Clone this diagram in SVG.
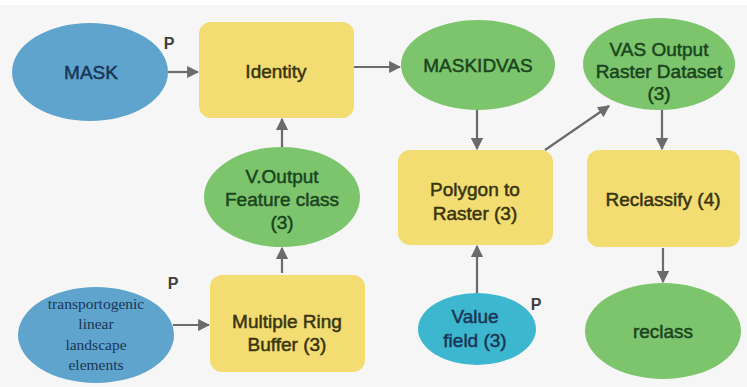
<svg xmlns="http://www.w3.org/2000/svg" width="747" height="387" viewBox="0 0 747 387">
<defs>
<style>
.bg{fill:#f6f6f6}
.tool{fill:#f3dc72}
.data{fill:#7cc56c}
.inp{fill:#5fa4cd}
.val{fill:#3db6cf}
text{font-family:"Liberation Sans",Arial,sans-serif;font-size:19px;text-anchor:middle;stroke-width:0.5}
.tt{fill:#37350f;stroke:#37350f}
.td{fill:#1b4420;stroke:#1b4420}
.ti{fill:#1a3656;stroke:#1a3656}
.ser{font-family:"Liberation Serif","Times New Roman",serif;font-size:15.5px;stroke:none;fill:#1a3656}
.p{font-size:16px;font-weight:bold;fill:#3f3f3f;stroke:none}
.conn line{stroke:#6b6b6b;stroke-width:2.2;marker-end:url(#ah)}
</style>
<marker id="ah" viewBox="0 0 10 10" refX="9" refY="5" markerWidth="5.5" markerHeight="5.5" orient="auto" markerUnits="strokeWidth"><path d="M0,0 L10,5 L0,10 z" fill="#6b6b6b"/></marker>
</defs>
<rect class="bg" x="0" y="0" width="747" height="387"/>
<rect x="0" y="0" width="747" height="5" fill="#ffffff"/>

<g id="connectors" class="conn">
<line x1="168" y1="72" x2="198" y2="72"/>
<line x1="354" y1="67" x2="400" y2="67"/>
<line x1="282" y1="147" x2="282" y2="119"/>
<line x1="282" y1="273" x2="282" y2="248"/>
<line x1="173" y1="325" x2="209" y2="325"/>
<line x1="477" y1="110" x2="477" y2="149"/>
<line x1="545" y1="150" x2="609" y2="106"/>
<line x1="477" y1="293" x2="477" y2="246"/>
<line x1="662" y1="110" x2="662" y2="149"/>
<line x1="663" y1="248" x2="663" y2="282"/>
</g>

<g id="mask">
<ellipse class="inp" cx="90" cy="72" rx="78" ry="49"/>
<text class="ti" x="91" y="79">MASK</text>
<text class="p" x="169" y="49">P</text>
</g>

<g id="identity">
<rect class="tool" x="199" y="22" width="155" height="96" rx="12"/>
<text class="tt" x="276" y="78">Identity</text>
</g>

<g id="maskidvas">
<ellipse class="data" cx="478" cy="65" rx="77" ry="45"/>
<text class="td" x="478" y="72">MASKIDVAS</text>
</g>

<g id="vas-output">
<ellipse class="data" cx="659" cy="64" rx="76" ry="46"/>
<text class="td" x="659" y="56">VAS Output</text>
<text class="td" x="659" y="78">Raster Dataset</text>
<text class="td" x="659" y="100">(3)</text>
</g>

<g id="v-output">
<ellipse class="data" cx="282" cy="197" rx="78" ry="50"/>
<text class="td" x="282" y="183">V.Output</text>
<text class="td" x="282" y="206">Feature class</text>
<text class="td" x="282" y="229">(3)</text>
</g>

<g id="polygon-to-raster">
<rect class="tool" x="398" y="150" width="155" height="95" rx="12"/>
<text class="tt" x="475" y="196">Polygon to</text>
<text class="tt" x="475" y="220">Raster (3)</text>
</g>

<g id="reclassify">
<rect class="tool" x="587" y="150" width="153" height="97" rx="12"/>
<text class="tt" x="663" y="206">Reclassify (4)</text>
</g>

<g id="transportogenic">
<ellipse class="inp" cx="96" cy="335" rx="78" ry="48"/>
<text class="ser" x="96" y="309">transportogenic</text>
<text class="ser" x="96" y="329">linear</text>
<text class="ser" x="96" y="350">landscape</text>
<text class="ser" x="96" y="370">elements</text>
<text class="p" x="173" y="289">P</text>
</g>

<g id="multiple-ring-buffer">
<rect class="tool" x="210" y="275" width="155" height="97" rx="12"/>
<text class="tt" x="287" y="328">Multiple Ring</text>
<text class="tt" x="287" y="351">Buffer (3)</text>
</g>

<g id="value-field">
<ellipse class="val" cx="477" cy="329" rx="59" ry="36"/>
<text class="ti" x="475" y="323">Value</text>
<text class="ti" x="475" y="347">field (3)</text>
<text class="p" x="536" y="310">P</text>
</g>

<g id="reclass">
<ellipse class="data" cx="663" cy="331" rx="78" ry="48"/>
<text class="td" x="663" y="338">reclass</text>
</g>
</svg>
